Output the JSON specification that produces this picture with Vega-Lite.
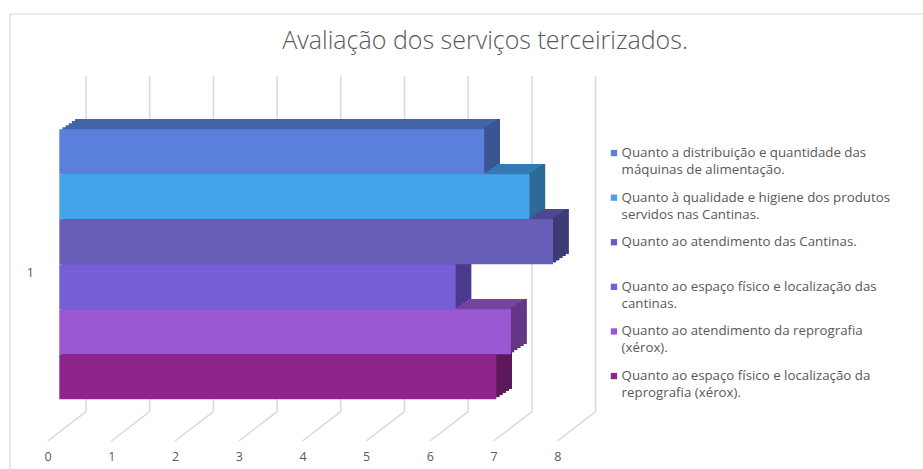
{
  "$schema": "https://vega.github.io/schema/vega-lite/v6.json",
  "autosize": {"type": "none"},
  "width": 509.6,
  "height": 335.7,
  "padding": {"left": 59.3, "top": 96.4, "right": 354.1, "bottom": 36.9},
  "background": "white",
  "config": {"view": {"stroke": null}},
  "title": {
    "text": "Avaliação dos serviços terceirizados.",
    "font": "Open Sans",
    "fontSize": 25,
    "fontWeight": 300,
    "color": "#595959",
    "anchor": "middle",
    "frame": "group",
    "offset": 0,
    "dx": 171,
    "dy": 41
  },
  "datasets": {
    "bars": [
      {"servico": "Quanto a distribuição e quantidade das máquinas de alimentação.", "cat": "1", "nota": 6.67},
      {"servico": "Quanto à qualidade e higiene dos produtos servidos nas Cantinas.", "cat": "1", "nota": 7.38},
      {"servico": "Quanto ao atendimento das Cantinas.", "cat": "1", "nota": 7.75},
      {"servico": "Quanto ao espaço físico e localização das cantinas.", "cat": "1", "nota": 6.22},
      {"servico": "Quanto ao atendimento da reprografia (xérox).", "cat": "1", "nota": 7.09},
      {"servico": "Quanto ao espaço físico e localização da reprografia (xérox).", "cat": "1", "nota": 6.86}
    ],
    "ticks": [{"v": 0}, {"v": 1}, {"v": 2}, {"v": 3}, {"v": 4}, {"v": 5}, {"v": 6}, {"v": 7}, {"v": 8}]
  },
  "data": {"name": "bars"},
  "layer": [
    {
      "data": {"values": [{"frame": 1}]},
      "mark": {"type": "rect", "fill": null, "stroke": "#d9d9d9", "strokeWidth": 1.2, "xOffset": -49.3, "yOffset": -82.4, "x2Offset": 380, "y2Offset": 60},
      "encoding": {"x": {"value": 0}, "x2": {"value": "width"}, "y": {"value": 0}, "y2": {"value": "height"}}
    },
    {
      "data": {"name": "ticks"},
      "mark": {"type": "rule", "color": "#d9d9d9", "strokeWidth": 1.5, "xOffset": 26.7, "yOffset": -20.4, "y2Offset": -20.4},
      "encoding": {
        "x": {"field": "v", "type": "quantitative", "title": null,
          "scale": {"domain": [0, 8], "nice": false},
          "axis": {"orient": "bottom", "values": [0, 1, 2, 3, 4, 5, 6, 7, 8], "format": "d", "labelFlush": false, "labelOverlap": false,
            "domain": false, "ticks": false, "grid": false, "labelOffset": -11.6,
            "labelPadding": 18, "labelAngle": 0, "labelAlign": "center", "labelFont": "Open Sans", "labelFontSize": 12.5, "labelColor": "#595959", "title": null}},
        "y": {"value": 0},
        "y2": {"value": "height"}
      }
    },
    {
      "data": {"name": "ticks"},
      "mark": {"type": "rule", "color": "#d9d9d9", "strokeWidth": 1.5, "xOffset": 26.7, "x2Offset": -11.6, "yOffset": -20.4, "y2Offset": 8.9},
      "encoding": {
        "x": {"field": "v", "type": "quantitative", "title": null},
        "x2": {"field": "v"},
        "y": {"value": "height"},
        "y2": {"value": "height"}
      }
    },
    {
      "layer": [
        {
          "encoding": {
            "x": {"field": "nota", "type": "quantitative", "title": null},
            "x2": {"datum": 0},
            "y": {"field": "servico", "type": "nominal", "sort": null, "axis": null, "scale": {"paddingInner": 0, "paddingOuter": 0.732}},
            "fill": {"field": "servico", "type": "nominal", "sort": null, "legend": null,
              "scale": {"range": ["#4464a9", "#347bb6", "#4e4791", "#5a47a3", "#7643a0", "#6c1c69"]}}
          },
          "layer": [
            {"mark": {"type": "bar", "orient": "horizontal", "xOffset": 15.7, "x2Offset": 15.7, "yOffset": -10.3}},
            {"mark": {"type": "bar", "orient": "horizontal", "xOffset": 12.56, "x2Offset": 12.56, "yOffset": -8.24}},
            {"mark": {"type": "bar", "orient": "horizontal", "xOffset": 9.42, "x2Offset": 9.42, "yOffset": -6.18}},
            {"mark": {"type": "bar", "orient": "horizontal", "xOffset": 6.28, "x2Offset": 6.28, "yOffset": -4.12}},
            {"mark": {"type": "bar", "orient": "horizontal", "xOffset": 3.14, "x2Offset": 3.14, "yOffset": -2.06}}
          ]
        },
        {
          "encoding": {
            "x": {"field": "nota", "type": "quantitative", "title": null},
            "x2": {"field": "nota"},
            "y": {"field": "servico", "type": "nominal", "sort": null, "axis": null},
            "fill": {"field": "servico", "type": "nominal", "sort": null, "legend": null,
              "scale": {"range": ["#3a548f", "#2c6994", "#3e3a76", "#4a3a8e", "#633584", "#5d185c"]}}
          },
          "layer": [
            {"mark": {"type": "bar", "orient": "horizontal", "xOffset": 15.7, "x2Offset": 12.56, "yOffset": -10.3}},
            {"mark": {"type": "bar", "orient": "horizontal", "xOffset": 12.56, "x2Offset": 9.42, "yOffset": -8.24}},
            {"mark": {"type": "bar", "orient": "horizontal", "xOffset": 9.42, "x2Offset": 6.28, "yOffset": -6.18}},
            {"mark": {"type": "bar", "orient": "horizontal", "xOffset": 6.28, "x2Offset": 3.14, "yOffset": -4.12}},
            {"mark": {"type": "bar", "orient": "horizontal", "xOffset": 3.14, "x2Offset": 0, "yOffset": -2.06}}
          ]
        },
        {
          "mark": {"type": "bar", "orient": "horizontal"},
          "encoding": {
            "x": {"field": "nota", "type": "quantitative", "title": null},
            "y": {"field": "servico", "type": "nominal", "sort": null, "axis": null},
            "color": {"field": "servico", "type": "nominal", "sort": null,
              "scale": {"range": ["#5b80db", "#43a4e9", "#675eb8", "#765fd6", "#9a59d2", "#8f258b"]},
              "legend": {
                "orient": "none", "legendX": 548, "legendY": 50, "title": null, "padding": 0,
                "symbolType": "square", "symbolSize": 40, "symbolStrokeWidth": 0,
                "labelFont": "Open Sans", "labelFontSize": 13.3, "labelColor": "#595959", "labelLimit": 400,
                "labelOffset": 1, "rowPadding": 13.6, "labelBaseline": "middle",
                "labelExpr": "length(datum.label) > 41 ? split(replace(datum.label, /^(.{1,41}) /, '$1|'), '|') : [datum.label, ' ']",
                "encode": {"labels": {"update": {"lineHeight": {"value": 17}}}}
              }}
          }
        }
      ],
      "resolve": {"scale": {"fill": "independent"}}
    },
    {
      "mark": {"type": "point", "opacity": 0},
      "encoding": {
        "y": {"field": "cat", "type": "nominal", "title": null, "scale": {"paddingInner": 0, "paddingOuter": 0},
          "axis": {"orient": "left", "domain": false, "ticks": false, "grid": false, "labelPadding": 26, "labelOffset": 8,
            "labelFont": "Open Sans", "labelFontSize": 12.5, "labelColor": "#595959", "title": null}}
      }
    }
  ],
  "resolve": {"scale": {"y": "independent"}}
}
